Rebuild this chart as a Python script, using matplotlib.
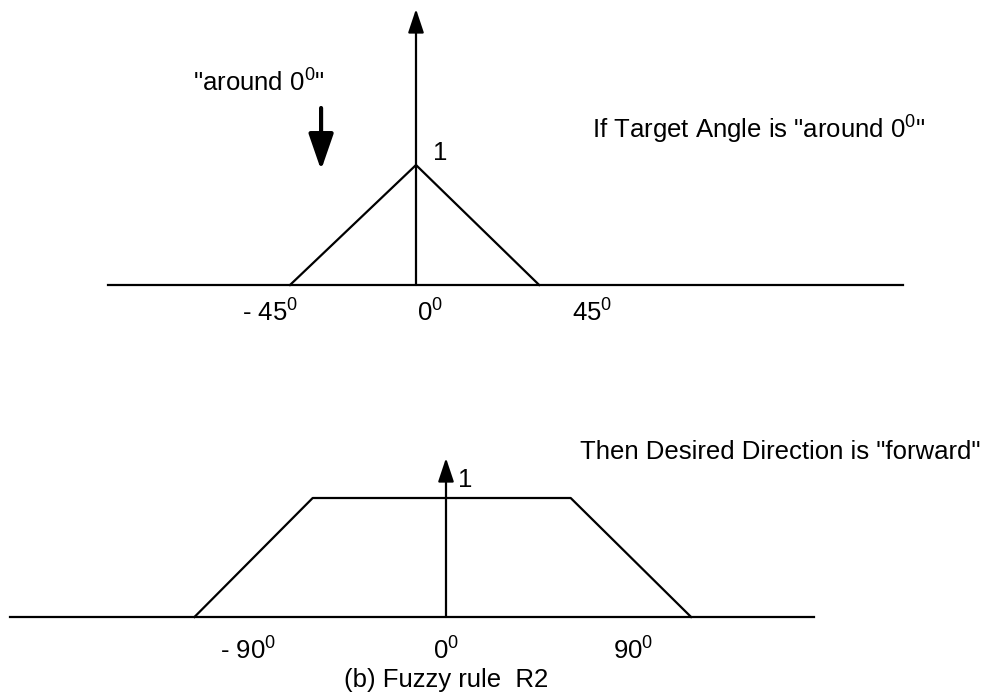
import numpy as np
import matplotlib
matplotlib.use('Agg')
import matplotlib.pyplot as plt

plt.rcParams['font.family'] = ['Liberation Sans', 'DejaVu Sans']
plt.rcParams['mathtext.fontset'] = 'custom'
plt.rcParams['mathtext.rm'] = 'Liberation Sans'
plt.rcParams['mathtext.default'] = 'regular'

# membership functions (angle in degrees, membership 0..1)
# if part: target angle "around 0"
tri_x = [-45, 0, 44]
tri_mu = [0, 1, 0]
top_base = [-110, 174]

# then part: desired direction "forward"
trap_x = [-117, -62, 58, 114]
trap_mu = [0, 1, 1, 0]
bot_base = [-203, 171]

top_ticks = [-52, 0.5, 55.7]
top_ticklabels = ['- 45$^0$', '0$^0$', '45$^0$']
bot_ticks = [-92, 0, 77.7]
bot_ticklabels = ['- 90$^0$', '0$^0$', '90$^0$']

FS = 18.5
LW = 1.6

fig = plt.figure(figsize=(9.9, 6.98), dpi=100)

################################################################################
# top panel
ax1 = fig.add_axes([0, 0.5, 1, 0.5])
ax1.set_xlim(-416/2.8, (990-416)/2.8)
ax1.set_ylim(-64/120., 285/120.)
ax1.axis('off')

ax1.plot(top_base, [0, 0], color='black', lw=LW)
ax1.plot(tri_x, tri_mu, color='black', lw=LW)
ax1.annotate('', xy=(0, 2.3), xytext=(0, 0),
             arrowprops=dict(arrowstyle='-|>,head_length=0.6,head_width=0.2',
                             mutation_scale=24, color='black', lw=LW,
                             shrinkA=0, shrinkB=0))
# the little down arrow pointing at the membership function
ax1.annotate('', xy=(-33.9, 0.958), xytext=(-33.9, 1.475),
             arrowprops=dict(arrowstyle='-|>,head_length=1.1,head_width=0.38',
                             mutation_scale=20, color='black', lw=3,
                             shrinkA=0, shrinkB=0))
ax1.text(-32.5, 1.608, '"around 0$^0$"', fontsize=FS, ha='right', va='baseline')
ax1.text(6, 1.04, '1', fontsize=FS, ha='left', va='baseline')
ax1.text(62.9, 1.217, 'If Target Angle is "around 0$^0$"', fontsize=FS,
         ha='left', va='baseline')
for x, lab, ha in zip(top_ticks, top_ticklabels, ['center', 'left', 'left']):
    ax1.text(x, -0.308, lab, fontsize=FS, ha=ha, va='baseline')

################################################################################
# bottom panel
ax2 = fig.add_axes([0, 0, 1, 0.5])
ax2.set_xlim(-446/2.15, (990-446)/2.15)
ax2.set_ylim(-81/119., 268/119.)
ax2.axis('off')

ax2.plot(bot_base, [0, 0], color='black', lw=LW)
ax2.plot(trap_x, trap_mu, color='black', lw=LW)
ax2.annotate('', xy=(0, 1.336), xytext=(0, 0),
             arrowprops=dict(arrowstyle='-|>,head_length=0.6,head_width=0.2',
                             mutation_scale=24, color='black', lw=LW,
                             shrinkA=0, shrinkB=0))
ax2.text(5.6, 1.092, '1', fontsize=FS, ha='left', va='baseline')
ax2.text(62.3, 1.328, 'Then Desired Direction is "forward"', fontsize=FS,
         ha='left', va='baseline')
for x, lab, ha in zip(bot_ticks, bot_ticklabels, ['center', 'center', 'left']):
    ax2.text(x, -0.361, lab, fontsize=FS, ha=ha, va='baseline')
ax2.text(0, -0.588, '(b) Fuzzy rule  R2', fontsize=FS, ha='center', va='baseline')

fig.savefig('out.png', dpi=100)
